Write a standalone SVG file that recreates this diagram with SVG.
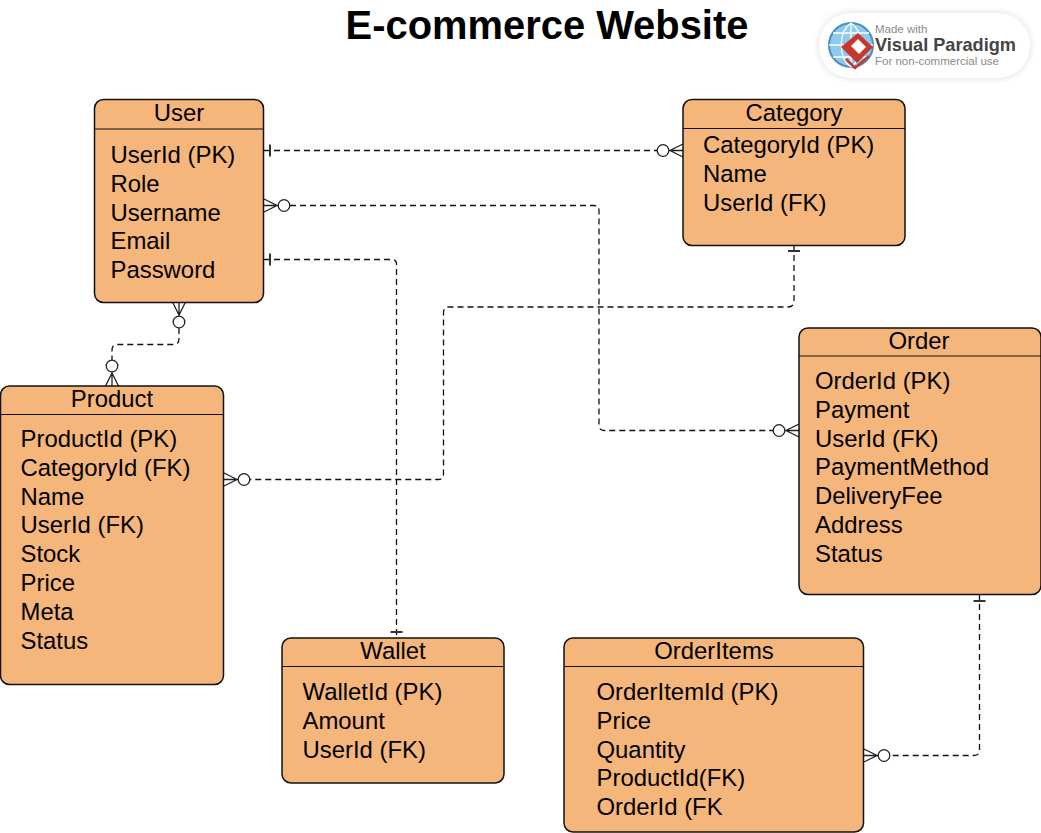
<svg xmlns="http://www.w3.org/2000/svg" width="1041" height="833" viewBox="0 0 1041 833">
<defs>
<filter id="blur" x="-10%" y="-20%" width="120%" height="140%"><feGaussianBlur stdDeviation="3"/></filter>
<g id="one"><path d="M0 -6V6" class="tick"/></g>
<g id="many"><path d="M0 -6.500L13 0L0 6.500M0 0H14" class="crow"/><circle cx="20" cy="0" r="5.800" class="ring"/></g>
</defs>
<style>
text{font-family:"Liberation Sans",Arial,sans-serif;fill:#000}
.box{fill:#f5b67b;stroke:#111;stroke-width:1.500}
.div{stroke:#111;stroke-width:1.200;fill:none}
.h{font-size:23.900px;text-anchor:middle}
.r{font-size:23.900px}
.dash{fill:none;stroke:#111;stroke-width:1.300;stroke-dasharray:6 4}
.tick{fill:none;stroke:#333;stroke-width:2}
.crow{fill:none;stroke:#222;stroke-width:1.300}
.ring{fill:#fff;stroke:#222;stroke-width:1.300}
</style>
<rect width="1041" height="833" fill="#fff"/>
<text id="title" x="547" y="39" font-size="39.900" font-weight="700" text-anchor="middle">E-commerce Website</text>

<g id="connectors">
<path class="dash" d="M264 150.500H657"/>
<path class="dash" d="M290 205.500H594Q599 205.500 599 210.500V425Q599 430.500 604 430.500H773"/>
<path class="dash" d="M264 259.500H392Q396.500 259.500 396.500 264V638"/>
<path class="dash" d="M179 328V339Q179 344.500 174 344.500H117Q112 344.500 112 350V360"/>
<path class="dash" d="M794 245V301Q794 307 788 307H449Q443.500 307 443.500 313V474Q443.500 479.500 438 479.500H249"/>
<path class="dash" d="M979.500 594V750Q979.500 755.500 974 755.500H890"/>
<use href="#one" transform="translate(270 150.500)"/>
<use href="#one" transform="translate(270 259.500)"/>
<use href="#one" transform="translate(794 251) rotate(90)"/>
<use href="#one" transform="translate(396.500 632) rotate(90)"/>
<use href="#one" transform="translate(979.500 601) rotate(90)"/>
<use href="#many" transform="translate(264 205.500)"/>
<use href="#many" transform="translate(683 150.500) rotate(180)"/>
<use href="#many" transform="translate(799 430.500) rotate(180)"/>
<use href="#many" transform="translate(179 302) rotate(90)"/>
<use href="#many" transform="translate(112 386) rotate(-90)"/>
<use href="#many" transform="translate(224 479.500)"/>
<use href="#many" transform="translate(864 755.500)"/>
</g>

<g id="user">
<rect class="box" x="94.500" y="99.500" width="169" height="203" rx="9"/>
<path class="div" d="M94.500 129H263.500"/>
<text class="h" x="179" y="121">User</text>
<text class="r" x="110.500" y="163">UserId (PK)</text>
<text class="r" x="110.500" y="192">Role</text>
<text class="r" x="110.500" y="221">Username</text>
<text class="r" x="110.500" y="249">Email</text>
<text class="r" x="110.500" y="278">Password</text>
</g>

<g id="category">
<rect class="box" x="683" y="99.500" width="222" height="146" rx="9"/>
<path class="div" d="M683 128.500H905"/>
<text class="h" x="794" y="121">Category</text>
<text class="r" x="703" y="153">CategoryId (PK)</text>
<text class="r" x="703" y="182">Name</text>
<text class="r" x="703" y="211">UserId (FK)</text>
</g>

<g id="order">
<rect class="box" x="799" y="328" width="242" height="266.500" rx="9"/>
<path class="div" d="M799 356H1041"/>
<text class="h" x="919" y="349">Order</text>
<text class="r" x="815" y="389">OrderId (PK)</text>
<text class="r" x="815" y="418">Payment</text>
<text class="r" x="815" y="447">UserId (FK)</text>
<text class="r" x="815" y="475">PaymentMethod</text>
<text class="r" x="815" y="504">DeliveryFee</text>
<text class="r" x="815" y="533">Address</text>
<text class="r" x="815" y="562">Status</text>
</g>

<g id="product">
<rect class="box" x="0.500" y="386" width="223" height="298.500" rx="9"/>
<path class="div" d="M0.500 414.500H223.500"/>
<text class="h" x="112" y="407">Product</text>
<text class="r" x="20.500" y="447">ProductId (PK)</text>
<text class="r" x="20.500" y="476">CategoryId (FK)</text>
<text class="r" x="20.500" y="505">Name</text>
<text class="r" x="20.500" y="533">UserId (FK)</text>
<text class="r" x="20.500" y="562">Stock</text>
<text class="r" x="20.500" y="591">Price</text>
<text class="r" x="20.500" y="620">Meta</text>
<text class="r" x="20.500" y="649">Status</text>
</g>

<g id="wallet">
<rect class="box" x="282" y="638" width="222" height="145" rx="9"/>
<path class="div" d="M282 666.500H504"/>
<text class="h" x="393" y="659">Wallet</text>
<text class="r" x="302.500" y="700">WalletId (PK)</text>
<text class="r" x="302.500" y="729">Amount</text>
<text class="r" x="302.500" y="758">UserId (FK)</text>
</g>

<g id="orderitems">
<rect class="box" x="564" y="638" width="299.500" height="194" rx="9"/>
<path class="div" d="M564 666.500H863.500"/>
<text class="h" x="714" y="659">OrderItems</text>
<text class="r" x="596.500" y="700">OrderItemId (PK)</text>
<text class="r" x="596.500" y="729">Price</text>
<text class="r" x="596.500" y="758">Quantity</text>
<text class="r" x="596.500" y="786">ProductId(FK)</text>
<text class="r" x="596.500" y="815">OrderId (FK</text>
</g>

<g id="badge">
<rect x="818" y="12" width="213" height="67" rx="33" fill="#e4e4e4" filter="url(#blur)"/>
<rect x="819" y="13" width="211" height="65" rx="32" fill="#fff"/>
<circle cx="851" cy="45" r="22" fill="#8ccbee" stroke="#4d8fb5" stroke-width="2"/>
<path d="M851 23V67M829 45H873M851 23C838 32 838 58 851 67M851 23C864 32 864 58 851 67M833 33H869M833 57H869" fill="none" stroke="#fff" stroke-width="1.300"/>
<path d="M858 33L873 47L857 63L841 47Z" fill="#c8372d"/>
<path d="M851 46L858 39L866 47L859 54Z" fill="#fff"/>
<path d="M846 59L855 68L869 56" fill="none" stroke="#c8372d" stroke-width="2.500"/>
<text x="875" y="33" font-size="11.500" style="fill:#8a8a8a">Made with</text>
<text x="875" y="51" font-size="18.500" font-weight="700" textLength="141" lengthAdjust="spacingAndGlyphs" style="fill:#444">Visual Paradigm</text>
<text x="875" y="65" font-size="11.500" style="fill:#8a8a8a">For non-commercial use</text>
</g>
</svg>
